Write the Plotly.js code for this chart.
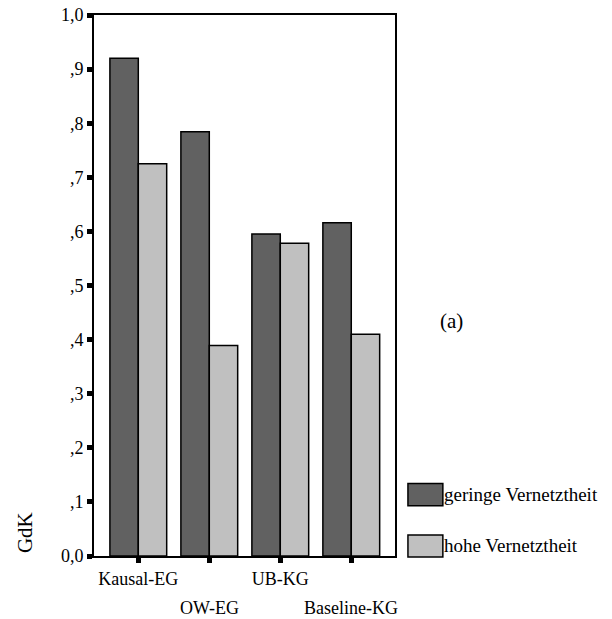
<!DOCTYPE html>
<html>
<head>
<meta charset="utf-8">
<script src="https://cdn.plot.ly/plotly-3.0.1.min.js"></script>
</head>
<body style="margin:0;padding:0;background:#fff">
<div id="chart" style="width:612px;height:619px"></div>
<script>
// ---- data ----
const categories = ["Kausal-EG", "OW-EG", "UB-KG", "Baseline-KG"];
const seriesNames = ["geringe Vernetztheit", "hohe Vernetztheit"];
const geringeValues = [0.920, 0.784, 0.595, 0.616];
const hoheValues = [0.725, 0.389, 0.578, 0.410];
const yTickValues = [0, 0.1, 0.2, 0.3, 0.4, 0.5, 0.6, 0.7, 0.8, 0.9, 1.0];
const yTickLabels = ["0,0", ",1", ",2", ",3", ",4", ",5", ",6", ",7", ",8", ",9", "1,0"];
const yAxisLabel = "GdK";
const panelLabel = "(a)";

// ---- styles ----
const barColors = ["#616161", "#c0c0c0"];
const serifFamily = "Times New Roman";

const catIdx = categories.map((c, i) => i);
const traces = [geringeValues, hoheValues].map((vals, k) => ({
  type: "bar",
  x: catIdx,
  y: vals,
  name: seriesNames[k],
  marker: { color: barColors[k], line: { color: "#000", width: 1.5 } },
  showlegend: false,
  hoverinfo: "skip"
}));

// row 1 labels as tick labels (even index), row 2 as annotations (odd index)
const row1Text = categories.map((c, i) => (i % 2 === 0 ? c : " "));

const annotations = [];
categories.forEach((c, i) => {
  if (i % 2 === 1) {
    annotations.push({
      x: i, xref: "x", y: -0.096, yref: "paper",
      text: c, showarrow: false, xanchor: "center", yanchor: "middle",
      font: { family: serifFamily, size: 18, color: "#000" }
    });
  }
});
annotations.push({
  x: -0.229, xref: "paper", y: 0.0425, yref: "paper",
  text: yAxisLabel, textangle: -90, showarrow: false,
  xanchor: "center", yanchor: "middle",
  font: { family: serifFamily, size: 21, color: "#000" }
});
annotations.push({
  x: 1.189, xref: "paper", y: 0.434, yref: "paper",
  text: panelLabel, showarrow: false, xanchor: "center", yanchor: "middle",
  font: { family: serifFamily, size: 21, color: "#000" }
});

// custom legend (swatches + labels)
const legendRows = [0.1135, 0.0185];
const shapes = [];
seriesNames.forEach((n, k) => {
  const yc = legendRows[k];
  shapes.push({
    type: "rect", xref: "paper", yref: "paper",
    x0: 1.043, x1: 1.159, y0: yc - 0.0205, y1: yc + 0.0205,
    fillcolor: barColors[k], line: { color: "#000", width: 1.5 }
  });
  annotations.push({
    x: 1.157, xref: "paper", y: yc, yref: "paper",
    text: n, showarrow: false, xanchor: "left", yanchor: "middle",
    font: { family: serifFamily, size: 19, color: "#000" }
  });
});

const layout = {
  width: 612, height: 619,
  margin: { l: 94, r: 217, t: 15, b: 63 },
  paper_bgcolor: "#fff", plot_bgcolor: "#fff",
  barmode: "group", bargap: 0.2, bargroupgap: 0,
  font: { family: serifFamily, size: 18, color: "#000" },
  xaxis: {
    range: [-0.624, 3.616],
    tickvals: catIdx, ticktext: row1Text,
    ticks: "outside", ticklen: 5, tickwidth: 5, tickcolor: "#000",
    showline: true, linecolor: "#000", linewidth: 2, mirror: true,
    showgrid: false, zeroline: false,
    tickfont: { family: serifFamily, size: 18, color: "#000" }
  },
  yaxis: {
    range: [0, 1],
    tickvals: yTickValues, ticktext: yTickLabels,
    ticks: "outside", ticklen: 5, tickwidth: 5, tickcolor: "#000",
    showline: true, linecolor: "#000", linewidth: 2, mirror: true,
    showgrid: false, zeroline: false,
    tickfont: { family: serifFamily, size: 18, color: "#000" }
  },
  annotations: annotations,
  shapes: shapes
};

Plotly.newPlot("chart", traces, layout, { displayModeBar: false });
</script>
</body>
</html>
